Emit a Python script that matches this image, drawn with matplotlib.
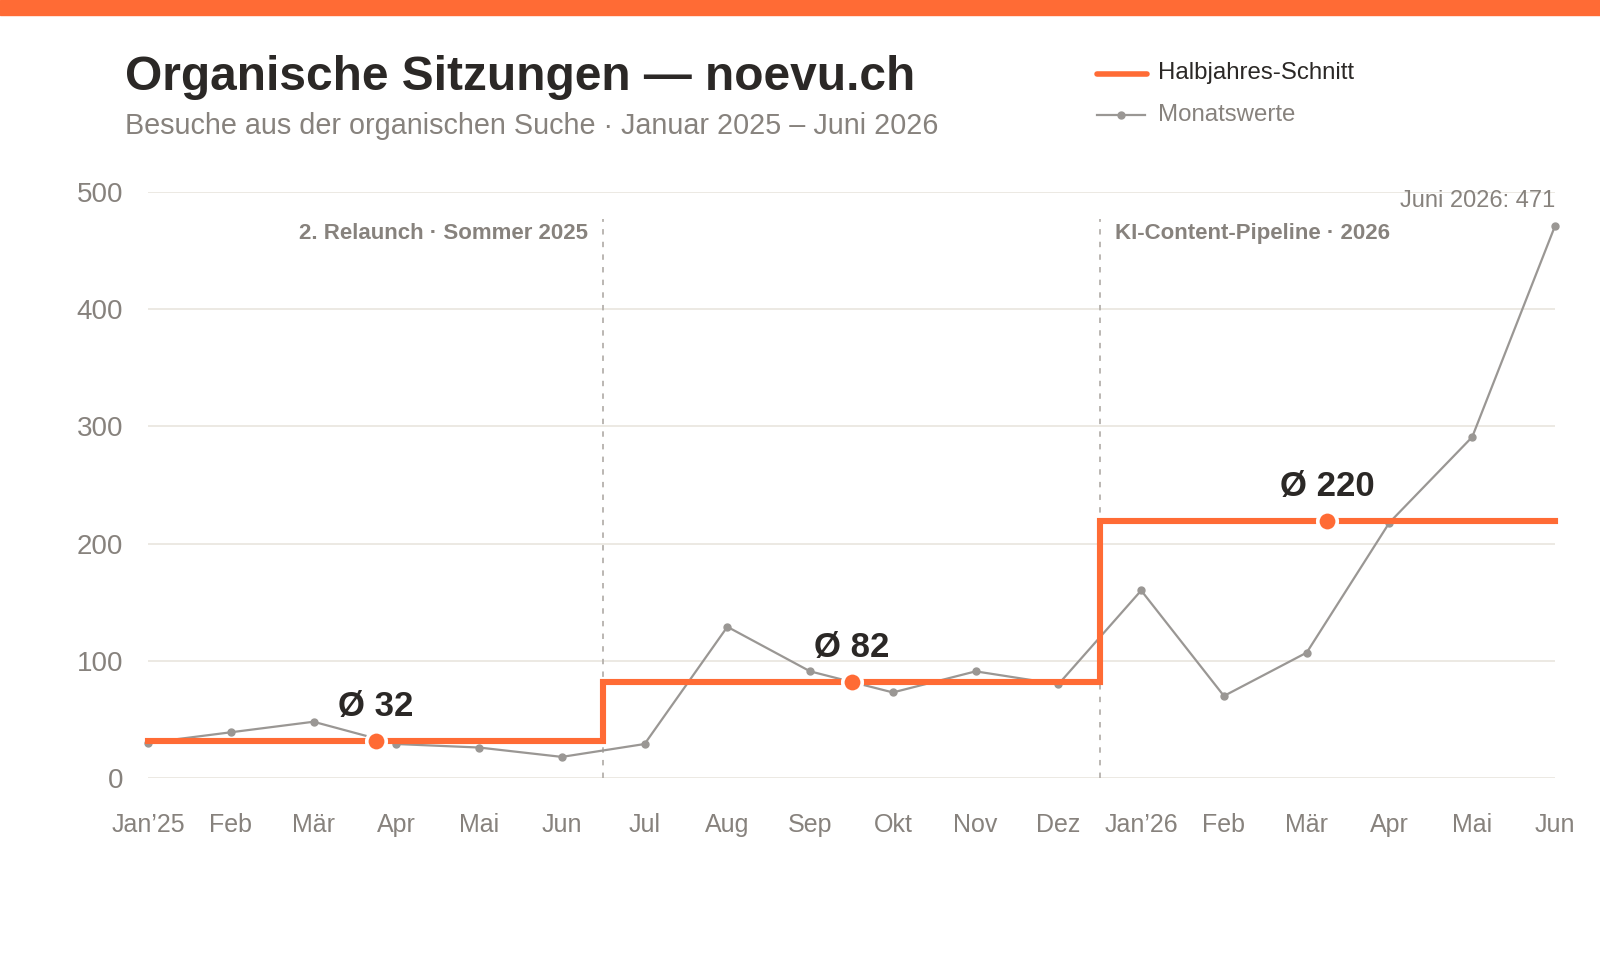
import numpy as np
import matplotlib
matplotlib.use('Agg')
import matplotlib.pyplot as plt
from matplotlib.lines import Line2D

plt.rcParams['font.family'] = ['Liberation Sans', 'DejaVu Sans']

months = ["Jan\u201925", "Feb", "M\u00e4r", "Apr", "Mai", "Jun", "Jul", "Aug", "Sep",
          "Okt", "Nov", "Dez", "Jan\u201926", "Feb", "M\u00e4r", "Apr", "Mai", "Jun"]
sessions = [30, 39, 48, 29, 26, 18, 29, 129, 91, 73, 91, 80, 160, 70, 107, 218, 291, 471]
half_sizes = [6, 6, 6]
phase_labels = ["2. Relaunch \u00b7 Sommer 2025", "KI-Content-Pipeline \u00b7 2026"]
legend_labels = ["Halbjahres-Schnitt", "Monatswerte"]

ORANGE = '#ff6b35'
GRAY = '#9a9794'
DARK = '#2b2826'
MUTED = '#87827d'

W, H = 1600, 960
x = np.arange(len(months))
vals = np.array(sessions)

# half-year averages
edges = np.cumsum([0] + half_sizes)
avgs = [vals[a:b].mean() for a, b in zip(edges[:-1], edges[1:])]
bounds = [x[0]] + [e - 0.5 for e in edges[1:-1]] + [x[-1]]

fig = plt.figure(figsize=(16, 9.6), dpi=100)
fig.patches.append(plt.Rectangle((0, 1 - 15 / H), 1, 15 / H, transform=fig.transFigure,
                                 color=ORANGE, zorder=0))

ax = fig.add_axes([148 / W, 1 - 778 / H, 1407 / W, 586 / H])
ax.set_xlim(x[0], x[-1])
ax.set_ylim(0, 500)

for s in ax.spines.values():
    s.set_visible(False)
ax.set_yticks(range(0, 501, 100))
ax.grid(axis='y', color='#ebe7e0', lw=1.3)
ax.set_axisbelow(True)
ax.tick_params(length=0, labelcolor=MUTED)
ax.tick_params(axis='y', pad=18, labelsize=20)
ax.tick_params(axis='x', pad=25, labelsize=18)
ax.set_xticks(x)
ax.set_xticklabels(months)

# phase separators
for b, lab, ha in zip(bounds[1:-1], phase_labels, ['right', 'left']):
    ax.vlines(b, 0, 477, colors='#b5b1ac', lw=1.3, linestyles=(0, (3, 4)), zorder=1)
    off = -0.18 if ha == 'right' else 0.18
    ax.text(b + off, 465, lab, ha=ha, va='center', fontsize=16, fontweight='bold', color=MUTED)

# monthly values
ax.plot(x, vals, color=GRAY, lw=1.6, marker='o', ms=5, zorder=3, clip_on=False)

# step line for averages
sx, sy = [], []
for i, a in enumerate(avgs):
    sx += [bounds[i], bounds[i + 1]]
    sy += [a, a]
ax.plot(sx, sy, color=ORANGE, lw=4.4, solid_joinstyle='miter', zorder=4, clip_on=False)

for i, a in enumerate(avgs):
    mid = (bounds[i] + bounds[i + 1]) / 2
    ax.plot(mid, a, 'o', ms=14, color=ORANGE, mec='white', mew=2.6, zorder=5)
    ax.text(mid, a + 21, f"\u00d8 {a:.0f}", ha='center', va='baseline', fontsize=25,
            fontweight='bold', color=DARK, zorder=6)

ax.text(x[-1], vals[-1] + 16, f"Juni 2026: {vals[-1]}", ha='right', va='baseline',
        fontsize=17, color=MUTED)

# titles
fig.text(125 / W, 1 - 90 / H, "Organische Sitzungen \u2014 noevu.ch", fontsize=34.5,
         fontweight='bold', color=DARK, va='baseline')
fig.text(125 / W, 1 - 134 / H, "Besuche aus der organischen Suche \u00b7 Januar 2025 \u2013 Juni 2026",
         fontsize=20.7, color=MUTED, va='baseline')

# legend drawn by hand
fig.add_artist(Line2D([1097 / W, 1147 / W], [1 - 73.5 / H] * 2, color=ORANGE, lw=4,
                      solid_capstyle='round', transform=fig.transFigure))
fig.add_artist(Line2D([1097 / W, 1145 / W], [1 - 115 / H] * 2, color=GRAY, lw=1.6,
                      transform=fig.transFigure))
fig.add_artist(Line2D([1121 / W], [1 - 115 / H], color=GRAY, marker='o', ms=5,
                      transform=fig.transFigure))
fig.text(1158 / W, 1 - 73.5 / H, legend_labels[0], fontsize=17.3, color=DARK, va='center')
fig.text(1158 / W, 1 - 115 / H, legend_labels[1], fontsize=17.3, color=MUTED, va='center')

fig.savefig('out.png', dpi=100, facecolor='white')
